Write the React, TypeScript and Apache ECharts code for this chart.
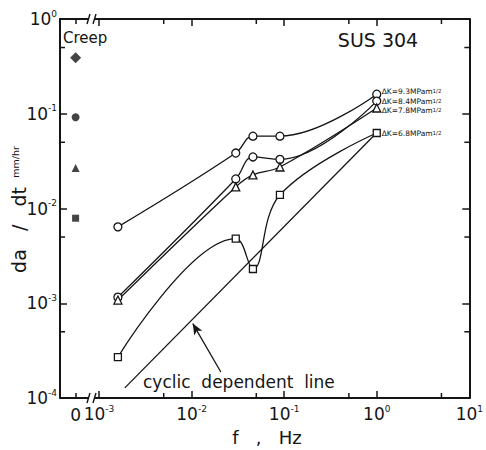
import React, { useEffect, useRef } from 'react';
import * as echarts from 'echarts';

// ---- data ----
const FREQ = [0.0016, 0.03, 0.046, 0.09, 1];
const DK93 = [0.0064, 0.0385, 0.058, 0.058, 0.161];
const DK84 = [0.00116, 0.0205, 0.035, 0.033, 0.136];
const DK78 = [0.00108, 0.0169, 0.0226, 0.0274, 0.115];
const DK68 = [0.00027, 0.0048, 0.0023, 0.0139, 0.0626];
const DK_LABELS = ['9.3', '8.4', '7.8', '6.8'];
const DK_SYMBOLS = ['circle', 'circle', 'triangle', 'rect'];
const CREEP = [0.39, 0.092, 0.0267, 0.0079];
const CREEP_SYMBOLS = ['diamond', 'circle', 'triangle', 'rect'];
const CYCLIC_F = [0.0019, 1];
const CYCLIC_V = [0.000128, 0.063];
const ARROW_F = [0.0207, 0.0103];
const ARROW_V = [0.000188, 0.00061];
const X_MINOR = [0.005, 0.05, 0.5, 5];
const Y_MINOR = [0.0005, 0.005, 0.05, 0.5];
const X_MIN = 0.001;
const X_MAX = 10;
const Y_MIN = 0.0001;
const Y_MAX = 1;

const FONT = '"DejaVu Sans"';
const INK = '#151515';

const supLabel = (v: number) => {
  const e = Math.round(Math.log10(v));
  return `{b|10}{s|${e}}`;
};
const tickRich = {
  b: { fontSize: 17, fontFamily: FONT, color: INK, lineHeight: 20 },
  s: { fontSize: 9, fontFamily: FONT, color: INK, lineHeight: 10, verticalAlign: 'top' },
};
const LABEL_SHIFT = [-3, 0, 3, 0];

export default function App() {
  const ref = useRef<HTMLDivElement>(null);
  useEffect(() => {
    if (!ref.current) return;
    const chart = echarts.init(ref.current, null, { renderer: 'svg' });
    const axisLine = { show: true, onZero: false, lineStyle: { color: INK, width: 2 } };
    const tickStyle = { color: INK, width: 1.5 };
    const dkSeries = [DK93, DK84, DK78, DK68].map((arr, k) => ({
      type: 'line',
      xAxisIndex: 2,
      yAxisIndex: 1,
      data: FREQ.map((f, i) => [f, arr[i]]),
      smooth: 0.4,
      symbol: DK_SYMBOLS[k],
      symbolSize: DK_SYMBOLS[k] === 'rect' ? 7 : 8,
      itemStyle: { color: '#fff', borderColor: INK, borderWidth: 1.3 },
      lineStyle: { color: INK, width: 1.3 },
      z: 3,
      endLabel: {
        show: true,
        distance: 5,
        offset: [0, LABEL_SHIFT[k]],
        formatter: `{n|\u0394K=${DK_LABELS[k]}MPam}{s|1/2}`,
        rich: {
          n: { fontSize: 7.5, fontFamily: FONT, color: INK, lineHeight: 7 },
          s: { fontSize: 5.5, fontFamily: FONT, color: INK, lineHeight: 5, verticalAlign: 'top' },
        },
      },
    }));

    const option: any = {
      animation: false,
      backgroundColor: '#fff',
      grid: [
        { left: 60, top: 19, width: 39, height: 379 },
        { left: 99, top: 19, width: 377, height: 379 },
      ],
      xAxis: [
        {
          gridIndex: 0, type: 'value', min: -0.8, max: 1.2, position: 'bottom',
          axisLine,
          axisTick: { show: true, inside: true, length: 5, customValues: [0], lineStyle: tickStyle },
          axisLabel: { show: true, customValues: [0], margin: 8, fontSize: 17, fontFamily: FONT, color: INK },
          splitLine: { show: false },
        },
        {
          gridIndex: 0, type: 'value', min: -0.8, max: 1.2, position: 'top',
          axisLine,
          axisTick: { show: true, inside: true, length: 5, customValues: [0], lineStyle: tickStyle },
          axisLabel: { show: false },
          splitLine: { show: false },
        },
        {
          gridIndex: 1, type: 'log', logBase: 10, min: X_MIN, max: X_MAX, position: 'bottom',
          axisLine,
          axisTick: { show: true, inside: true, length: 7, lineStyle: tickStyle },
          axisLabel: { show: true, margin: 6, formatter: supLabel, rich: tickRich },
          splitLine: { show: false },
        },
        {
          gridIndex: 1, type: 'log', logBase: 10, min: X_MIN, max: X_MAX, position: 'top',
          axisLine,
          axisTick: { show: true, inside: true, length: 7, lineStyle: tickStyle },
          axisLabel: { show: false },
          splitLine: { show: false },
        },
      ],
      yAxis: [
        {
          gridIndex: 0, type: 'log', logBase: 10, min: Y_MIN, max: Y_MAX, position: 'left',
          axisLine,
          axisTick: { show: true, inside: true, length: 7, lineStyle: tickStyle },
          axisLabel: { show: true, margin: 3, formatter: supLabel, rich: tickRich },
          splitLine: { show: false },
        },
        {
          gridIndex: 1, type: 'log', logBase: 10, min: Y_MIN, max: Y_MAX, position: 'right',
          axisLine,
          axisTick: { show: true, inside: true, length: 7, lineStyle: tickStyle },
          axisLabel: { show: false },
          splitLine: { show: false },
        },
      ],
      series: [
        ...dkSeries,
        {
          type: 'line',
          xAxisIndex: 2,
          yAxisIndex: 1,
          data: CYCLIC_F.map((f, i) => [f, CYCLIC_V[i]]),
          symbol: 'none',
          lineStyle: { color: INK, width: 1.3 },
          z: 2,
          markLine: {
            silent: true,
            symbol: ['none', 'arrow'],
            symbolSize: [7, 11],
            label: { show: false },
            lineStyle: { color: INK, width: 1.3, type: 'solid' },
            data: [[
              { coord: [ARROW_F[0], ARROW_V[0]] },
              { coord: [ARROW_F[1], ARROW_V[1]] },
            ]],
          },
        },
        {
          type: 'scatter',
          xAxisIndex: 0,
          yAxisIndex: 0,
          data: CREEP.map((v, i) => ({
            value: [0, v],
            symbol: CREEP_SYMBOLS[i],
            symbolSize: CREEP_SYMBOLS[i] === 'diamond' ? 11 : CREEP_SYMBOLS[i] === 'rect' ? 7 : 8,
          })),
          itemStyle: { color: INK },
        },
        {
          type: 'custom',
          xAxisIndex: 2,
          yAxisIndex: 1,
          clip: false,
          silent: true,
          data: X_MINOR.map((v) => [v, Y_MIN]),
          renderItem: (params: any, api: any) => {
            const v = api.value(0);
            const b = api.coord([v, Y_MIN]);
            const t = api.coord([v, Y_MAX]);
            return {
              type: 'group',
              children: [
                { type: 'line', shape: { x1: b[0], y1: b[1], x2: b[0], y2: b[1] - 5 }, style: { stroke: INK, lineWidth: 1.5 } },
                { type: 'line', shape: { x1: t[0], y1: t[1], x2: t[0], y2: t[1] + 5 }, style: { stroke: INK, lineWidth: 1.5 } },
              ],
            };
          },
        },
        {
          type: 'custom',
          xAxisIndex: 2,
          yAxisIndex: 1,
          clip: false,
          silent: true,
          data: Y_MINOR.map((v) => [X_MAX, v]),
          renderItem: (params: any, api: any) => {
            const v = api.value(1);
            const r = api.coord([X_MAX, v]);
            return { type: 'line', shape: { x1: r[0], y1: r[1], x2: r[0] - 5, y2: r[1] }, style: { stroke: INK, lineWidth: 1.5 } };
          },
        },
        {
          type: 'custom',
          xAxisIndex: 0,
          yAxisIndex: 0,
          clip: false,
          silent: true,
          data: Y_MINOR.map((v) => [-0.8, v]),
          renderItem: (params: any, api: any) => {
            const v = api.value(1);
            const l = api.coord([-0.8, v]);
            return { type: 'line', shape: { x1: l[0], y1: l[1], x2: l[0] + 5, y2: l[1] }, style: { stroke: INK, lineWidth: 1.5 } };
          },
        },
      ],
      graphic: [
        // axis breaks
        { type: 'rect', z: 100, shape: { x: 89, y: 394, width: 5, height: 8 }, style: { fill: '#fff' } },
        { type: 'line', z: 101, shape: { x1: 87, y1: 403, x2: 90, y2: 393 }, style: { stroke: INK, lineWidth: 1.4 } },
        { type: 'line', z: 101, shape: { x1: 93, y1: 403, x2: 96, y2: 393 }, style: { stroke: INK, lineWidth: 1.4 } },
        { type: 'rect', z: 100, shape: { x: 89, y: 15, width: 5, height: 8 }, style: { fill: '#fff' } },
        { type: 'line', z: 101, shape: { x1: 87, y1: 24, x2: 90, y2: 14 }, style: { stroke: INK, lineWidth: 1.4 } },
        { type: 'line', z: 101, shape: { x1: 93, y1: 24, x2: 96, y2: 14 }, style: { stroke: INK, lineWidth: 1.4 } },
        // texts
        { type: 'text', z: 100, x: 378, y: 40, style: { text: 'SUS 304', font: `19px ${FONT}`, fill: INK, align: 'center', verticalAlign: 'middle' } },
        { type: 'text', z: 100, x: 63, y: 38, style: { text: 'Creep', font: `15px ${FONT}`, fill: INK, align: 'left', verticalAlign: 'middle' } },
        { type: 'text', z: 100, x: 143, y: 382, style: { text: 'cyclic  dependent  line', font: `17px ${FONT}`, fill: INK, align: 'left', verticalAlign: 'middle' } },
        { type: 'text', z: 100, x: 267, y: 437, style: { text: 'f   ,   Hz', font: `18px ${FONT}`, fill: INK, align: 'center', verticalAlign: 'middle' } },
        { type: 'text', z: 100, x: 19, y: 230, rotation: Math.PI / 2, style: { text: 'da   /   dt', font: `19px ${FONT}`, fill: INK, align: 'center', verticalAlign: 'middle' } },
        { type: 'text', z: 100, x: 15, y: 162, rotation: Math.PI / 2, style: { text: 'mm/hr', font: `9.5px ${FONT}`, fill: INK, align: 'center', verticalAlign: 'middle' } },
      ],
    };
    chart.setOption(option);
    return () => chart.dispose();
  }, []);
  return (
    <div
      ref={ref}
      style={{ position: 'absolute', left: 0, top: 0, width: 486, height: 450, background: '#fff' }}
    />
  );
}
